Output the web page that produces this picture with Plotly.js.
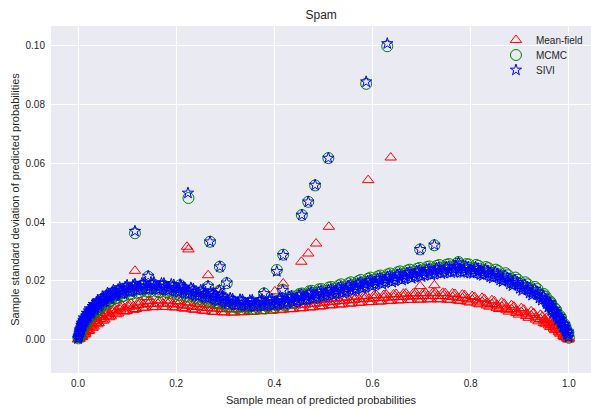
<!DOCTYPE html>
<html>
<head>
<meta charset="utf-8">
<script src="https://cdn.plot.ly/plotly-3.0.1.min.js"></script>
<style>html,body{margin:0;padding:0;background:#fff;}#chart{width:591px;height:410px;}</style>
</head>
<body>
<div id="chart"></div>
<script>
// Mean-field (main band: upper/lower sweeps and middle row)
const mfX = [0.000,0.003,0.006,0.009,0.012,0.015,0.019,0.023,0.027,0.032,0.037,0.042,0.048,0.054,0.060,0.067,0.074,0.082,0.090,0.099,0.108,0.118,0.128,0.138,0.148,0.158,0.168,0.178,0.188,0.198,0.208,0.218,0.228,0.238,0.248,0.258,0.268,0.278,0.288,0.298,0.308,0.318,0.328,0.338,0.348,0.358,0.368,0.378,0.388,0.398,0.408,0.418,0.428,0.438,0.448,0.458,0.468,0.478,0.488,0.498,0.508,0.518,0.528,0.538,0.548,0.558,0.568,0.578,0.588,0.598,0.608,0.618,0.628,0.638,0.648,0.658,0.668,0.678,0.688,0.698,0.708,0.718,0.728,0.738,0.748,0.758,0.768,0.778,0.788,0.798,0.808,0.818,0.828,0.838,0.848,0.858,0.868,0.878,0.888,0.898,0.908,0.918,0.928,0.938,0.946,0.952,0.957,0.962,0.967,0.972,0.977,0.982,0.987,0.991,0.995,0.999];
const mfY = [0.0000,0.0002,0.0015,0.0010,0.0029,0.0020,0.0043,0.0031,0.0057,0.0044,0.0072,0.0056,0.0084,0.0068,0.0096,0.0079,0.0106,0.0089,0.0115,0.0097,0.0123,0.0104,0.0129,0.0109,0.0132,0.0111,0.0133,0.0111,0.0132,0.0109,0.0129,0.0105,0.0125,0.0101,0.0121,0.0097,0.0117,0.0094,0.0115,0.0092,0.0114,0.0092,0.0115,0.0093,0.0116,0.0095,0.0118,0.0097,0.0120,0.0099,0.0122,0.0102,0.0125,0.0104,0.0128,0.0107,0.0131,0.0110,0.0134,0.0114,0.0138,0.0117,0.0141,0.0120,0.0144,0.0123,0.0147,0.0126,0.0149,0.0128,0.0151,0.0130,0.0153,0.0132,0.0155,0.0134,0.0157,0.0135,0.0158,0.0136,0.0159,0.0137,0.0159,0.0137,0.0158,0.0135,0.0155,0.0131,0.0151,0.0126,0.0145,0.0120,0.0138,0.0112,0.0130,0.0104,0.0122,0.0095,0.0112,0.0085,0.0102,0.0074,0.0090,0.0062,0.0078,0.0054,0.0068,0.0043,0.0055,0.0032,0.0041,0.0020,0.0026,0.0008,0.0010,0.0000];
const mfX2 = [0.0015,0.0045,0.0075,0.0105,0.0135,0.017,0.021,0.025,0.0295,0.0345,0.0395,0.045,0.051,0.057,0.0635,0.0705,0.078,0.086,0.0945,0.1035,0.113,0.123,0.133,0.143,0.153,0.163,0.173,0.183,0.193,0.203,0.213,0.223,0.233,0.243,0.253,0.263,0.273,0.283,0.293,0.303,0.313,0.323,0.333,0.343,0.353,0.363,0.373,0.383,0.393,0.403,0.413,0.423,0.433,0.443,0.453,0.463,0.473,0.483,0.493,0.503,0.513,0.523,0.533,0.543,0.553,0.563,0.573,0.583,0.593,0.603,0.613,0.623,0.633,0.643,0.653,0.663,0.673,0.683,0.693,0.703,0.713,0.723,0.733,0.743,0.753,0.763,0.773,0.783,0.793,0.803,0.813,0.823,0.833,0.843,0.853,0.863,0.873,0.883,0.893,0.903,0.913,0.923,0.933,0.942,0.949,0.9545,0.9595,0.9645,0.9695,0.9745,0.9795,0.9845,0.989,0.993,0.997,1.000];
const mfY2 = [0.0004,0.0010,0.0008,0.0024,0.0017,0.0038,0.0029,0.0051,0.0040,0.0064,0.0052,0.0078,0.0064,0.0090,0.0076,0.0101,0.0086,0.0111,0.0095,0.0119,0.0101,0.0126,0.0107,0.0131,0.0110,0.0133,0.0111,0.0133,0.0110,0.0131,0.0107,0.0127,0.0103,0.0123,0.0099,0.0119,0.0095,0.0116,0.0093,0.0114,0.0092,0.0114,0.0093,0.0115,0.0094,0.0117,0.0096,0.0119,0.0098,0.0121,0.0100,0.0124,0.0103,0.0126,0.0106,0.0129,0.0109,0.0132,0.0112,0.0136,0.0116,0.0139,0.0119,0.0142,0.0122,0.0145,0.0125,0.0148,0.0127,0.0150,0.0129,0.0152,0.0131,0.0154,0.0133,0.0156,0.0135,0.0157,0.0136,0.0158,0.0137,0.0159,0.0137,0.0159,0.0136,0.0157,0.0133,0.0153,0.0129,0.0148,0.0123,0.0142,0.0116,0.0134,0.0108,0.0126,0.0100,0.0117,0.0090,0.0107,0.0080,0.0096,0.0068,0.0084,0.0056,0.0074,0.0048,0.0061,0.0037,0.0047,0.0025,0.0032,0.0012,0.0014,0.0003,0.0004];
const mfX3 = [0.0025,0.0055,0.0085,0.0115,0.0145,0.0175,0.0215,0.0255,0.0295,0.0345,0.0395,0.045,0.051,0.057,0.0635,0.0705,0.078,0.086,0.0945,0.1035,0.113,0.123,0.133,0.143,0.153,0.163,0.173,0.183,0.193,0.203,0.213,0.223,0.233,0.243,0.253,0.263,0.273,0.283,0.293,0.303,0.313,0.323,0.333,0.343,0.353,0.363,0.373,0.383,0.393,0.403,0.413,0.423,0.433,0.443,0.453,0.463,0.473,0.483,0.493,0.503,0.513,0.523,0.533,0.543,0.553,0.563,0.573,0.583,0.593,0.603,0.613,0.623,0.633,0.643,0.653,0.663,0.673,0.683,0.693,0.703,0.713,0.723,0.733,0.743,0.753,0.763,0.773,0.783,0.793,0.803,0.813,0.823,0.833,0.843,0.853,0.863,0.873,0.883,0.893,0.903,0.913,0.923,0.933,0.942,0.949,0.9545,0.9595,0.9645,0.9695,0.9745,0.9795,0.9845,0.989,0.993,0.997];
const mfY3 = [0.0005,0.0008,0.0014,0.0020,0.0026,0.0032,0.0038,0.0045,0.0051,0.0058,0.0064,0.0070,0.0076,0.0082,0.0088,0.0093,0.0098,0.0102,0.0106,0.0110,0.0114,0.0117,0.0119,0.0121,0.0122,0.0122,0.0122,0.0122,0.0121,0.0119,0.0117,0.0115,0.0113,0.0111,0.0109,0.0107,0.0106,0.0105,0.0104,0.0103,0.0103,0.0104,0.0104,0.0105,0.0106,0.0107,0.0108,0.0109,0.0110,0.0111,0.0112,0.0114,0.0115,0.0116,0.0118,0.0119,0.0121,0.0122,0.0124,0.0126,0.0128,0.0129,0.0131,0.0132,0.0134,0.0135,0.0137,0.0138,0.0139,0.0140,0.0141,0.0142,0.0143,0.0144,0.0145,0.0146,0.0146,0.0147,0.0147,0.0148,0.0148,0.0148,0.0148,0.0148,0.0147,0.0145,0.0143,0.0141,0.0139,0.0136,0.0133,0.0129,0.0125,0.0121,0.0117,0.0113,0.0109,0.0104,0.0099,0.0094,0.0088,0.0082,0.0076,0.0070,0.0066,0.0061,0.0055,0.0049,0.0043,0.0037,0.0031,0.0024,0.0017,0.0010,0.0005];
// Mean-field (isolated points)
const mfOutX = [0.116,0.139,0.222,0.225,0.265,0.286,0.301,0.401,0.418,0.455,0.469,0.485,0.511,0.591,0.637,0.697,0.726];
const mfOutY = [0.0234,0.0145,0.0316,0.0307,0.0219,0.0168,0.0145,0.0164,0.0191,0.0265,0.0293,0.0327,0.0384,0.0543,0.0620,0.0182,0.0185];

// MCMC (main band: upper/lower sweeps and middle row)
const mcX = [0.001,0.003,0.005,0.007,0.009,0.011,0.013,0.016,0.019,0.022,0.025,0.029,0.033,0.037,0.041,0.046,0.051,0.056,0.061,0.067,0.073,0.079,0.086,0.093,0.101,0.109,0.117,0.126,0.136,0.146,0.156,0.166,0.176,0.186,0.196,0.206,0.216,0.226,0.236,0.246,0.256,0.266,0.276,0.286,0.296,0.306,0.316,0.326,0.336,0.346,0.356,0.366,0.376,0.386,0.396,0.406,0.416,0.426,0.436,0.446,0.456,0.466,0.476,0.486,0.496,0.506,0.516,0.526,0.536,0.546,0.556,0.566,0.576,0.586,0.596,0.606,0.616,0.626,0.636,0.646,0.656,0.666,0.676,0.686,0.696,0.706,0.716,0.726,0.736,0.746,0.756,0.766,0.776,0.786,0.796,0.806,0.816,0.826,0.836,0.846,0.856,0.866,0.876,0.886,0.896,0.906,0.916,0.926,0.936,0.946,0.953,0.959,0.964,0.969,0.974,0.979,0.984,0.989,0.993,0.997,1.000];
const mcY = [0.0004,0.0010,0.0030,0.0034,0.0052,0.0046,0.0068,0.0060,0.0084,0.0073,0.0098,0.0086,0.0112,0.0100,0.0124,0.0110,0.0138,0.0122,0.0150,0.0132,0.0160,0.0142,0.0169,0.0149,0.0177,0.0155,0.0181,0.0161,0.0185,0.0162,0.0186,0.0161,0.0183,0.0158,0.0178,0.0152,0.0171,0.0146,0.0164,0.0138,0.0157,0.0131,0.0149,0.0122,0.0140,0.0112,0.0130,0.0108,0.0127,0.0106,0.0127,0.0109,0.0130,0.0112,0.0134,0.0117,0.0139,0.0123,0.0147,0.0131,0.0157,0.0140,0.0166,0.0148,0.0172,0.0156,0.0179,0.0163,0.0188,0.0171,0.0195,0.0179,0.0203,0.0187,0.0211,0.0195,0.0218,0.0202,0.0225,0.0209,0.0232,0.0215,0.0238,0.0221,0.0244,0.0227,0.0249,0.0231,0.0254,0.0235,0.0257,0.0238,0.0258,0.0237,0.0256,0.0234,0.0251,0.0227,0.0243,0.0218,0.0233,0.0206,0.0219,0.0192,0.0204,0.0176,0.0188,0.0160,0.0172,0.0142,0.0146,0.0118,0.0124,0.0097,0.0101,0.0074,0.0074,0.0047,0.0044,0.0021,0.0006];
const mcX2 = [0.002,0.004,0.006,0.008,0.010,0.012,0.0145,0.0175,0.0205,0.0235,0.027,0.031,0.035,0.039,0.0435,0.0485,0.0535,0.0585,0.064,0.070,0.076,0.0825,0.0895,0.097,0.105,0.113,0.121,0.131,0.141,0.151,0.161,0.171,0.181,0.191,0.201,0.211,0.221,0.231,0.241,0.251,0.261,0.271,0.281,0.291,0.301,0.311,0.321,0.331,0.341,0.351,0.361,0.371,0.381,0.391,0.401,0.411,0.421,0.431,0.441,0.451,0.461,0.471,0.481,0.491,0.501,0.511,0.521,0.531,0.541,0.551,0.561,0.571,0.581,0.591,0.601,0.611,0.621,0.631,0.641,0.651,0.661,0.671,0.681,0.691,0.701,0.711,0.721,0.731,0.741,0.751,0.761,0.771,0.781,0.791,0.801,0.811,0.821,0.831,0.841,0.851,0.861,0.871,0.881,0.891,0.901,0.911,0.921,0.931,0.941,0.949,0.956,0.9615,0.9665,0.9715,0.9765,0.9815,0.9865,0.991,0.995,0.999];
const mcY2 = [0.0008,0.0020,0.0022,0.0044,0.0042,0.0058,0.0054,0.0074,0.0068,0.0091,0.0079,0.0105,0.0092,0.0120,0.0104,0.0130,0.0118,0.0142,0.0130,0.0152,0.0140,0.0162,0.0147,0.0171,0.0155,0.0177,0.0159,0.0183,0.0163,0.0184,0.0164,0.0183,0.0161,0.0180,0.0156,0.0174,0.0149,0.0168,0.0142,0.0160,0.0135,0.0153,0.0127,0.0144,0.0118,0.0133,0.0109,0.0128,0.0107,0.0125,0.0104,0.0126,0.0106,0.0128,0.0110,0.0134,0.0116,0.0143,0.0126,0.0155,0.0138,0.0164,0.0146,0.0171,0.0152,0.0177,0.0158,0.0184,0.0166,0.0191,0.0173,0.0199,0.0181,0.0207,0.0189,0.0215,0.0196,0.0222,0.0203,0.0229,0.0210,0.0235,0.0216,0.0241,0.0222,0.0247,0.0227,0.0251,0.0232,0.0255,0.0235,0.0258,0.0236,0.0257,0.0234,0.0254,0.0229,0.0247,0.0221,0.0238,0.0211,0.0226,0.0197,0.0211,0.0182,0.0195,0.0166,0.0179,0.0149,0.0155,0.0126,0.0130,0.0102,0.0106,0.0079,0.0081,0.0054,0.0052,0.0028,0.0024];
const mcX3 = [0.0035,0.0055,0.0075,0.0095,0.0115,0.0135,0.0165,0.0195,0.0225,0.0255,0.0295,0.0335,0.0375,0.0415,0.0465,0.0515,0.0565,0.0615,0.0675,0.0735,0.0795,0.0865,0.0935,0.1015,0.1095,0.1175,0.1265,0.1365,0.1465,0.1565,0.1665,0.1765,0.1865,0.1965,0.2065,0.2165,0.2265,0.2365,0.2465,0.2565,0.2665,0.2765,0.2865,0.2965,0.3065,0.3165,0.3265,0.3365,0.3465,0.3565,0.3665,0.3765,0.3865,0.3965,0.4065,0.4165,0.4265,0.4365,0.4465,0.4565,0.4665,0.4765,0.4865,0.4965,0.5065,0.5165,0.5265,0.5365,0.5465,0.5565,0.5665,0.5765,0.5865,0.5965,0.6065,0.6165,0.6265,0.6365,0.6465,0.6565,0.6665,0.6765,0.6865,0.6965,0.7065,0.7165,0.7265,0.7365,0.7465,0.7565,0.7665,0.7765,0.7865,0.7965,0.8065,0.8165,0.8265,0.8365,0.8465,0.8565,0.8665,0.8765,0.8865,0.8965,0.9065,0.9165,0.9265,0.9365,0.9465,0.9545,0.9605,0.9655,0.9705,0.9755,0.9805,0.9855,0.9905,0.9945,0.9985];
const mcY3 = [0.0015,0.0028,0.0040,0.0050,0.0058,0.0066,0.0072,0.0082,0.0088,0.0094,0.0095,0.0102,0.0110,0.0114,0.0120,0.0128,0.0132,0.0140,0.0142,0.0150,0.0152,0.0158,0.0160,0.0166,0.0166,0.0170,0.0172,0.0174,0.0173,0.0175,0.0172,0.0172,0.0169,0.0167,0.0163,0.0160,0.0157,0.0153,0.0149,0.0146,0.0142,0.0138,0.0133,0.0129,0.0123,0.0120,0.0118,0.0117,0.0115,0.0116,0.0116,0.0118,0.0118,0.0120,0.0122,0.0123,0.0134,0.0137,0.0148,0.0151,0.0154,0.0158,0.0160,0.0163,0.0166,0.0169,0.0173,0.0177,0.0180,0.0184,0.0188,0.0192,0.0196,0.0200,0.0204,0.0207,0.0211,0.0214,0.0218,0.0221,0.0224,0.0227,0.0230,0.0233,0.0236,0.0238,0.0240,0.0243,0.0244,0.0246,0.0247,0.0247,0.0246,0.0245,0.0243,0.0240,0.0236,0.0232,0.0227,0.0222,0.0215,0.0208,0.0201,0.0193,0.0185,0.0177,0.0169,0.0161,0.0150,0.0128,0.0116,0.0106,0.0096,0.0084,0.0072,0.0058,0.0044,0.0032,0.0018];
// MCMC (isolated points)
const mcOutX = [0.116,0.143,0.208,0.225,0.265,0.269,0.288,0.289,0.303,0.379,0.405,0.417,0.418,0.456,0.469,0.483,0.510,0.587,0.630,0.697,0.726,0.775,0.962];
const mcOutY = [0.0362,0.0214,0.0185,0.0482,0.0180,0.0333,0.0166,0.0248,0.0192,0.0157,0.0237,0.0170,0.0289,0.0424,0.0469,0.0525,0.0618,0.0871,0.0999,0.0307,0.0321,0.0264,0.0123];

// SIVI (main band: upper/lower sweeps and middle row)
const svX = [0.000,0.002,0.004,0.006,0.008,0.010,0.012,0.015,0.018,0.021,0.024,0.028,0.032,0.036,0.040,0.045,0.050,0.055,0.060,0.066,0.072,0.078,0.085,0.092,0.100,0.108,0.116,0.125,0.135,0.145,0.155,0.165,0.175,0.185,0.195,0.205,0.215,0.225,0.235,0.245,0.255,0.265,0.275,0.285,0.295,0.305,0.315,0.325,0.335,0.345,0.355,0.365,0.375,0.385,0.395,0.405,0.415,0.425,0.435,0.445,0.455,0.465,0.475,0.485,0.495,0.505,0.515,0.525,0.535,0.545,0.555,0.565,0.575,0.585,0.595,0.605,0.615,0.625,0.635,0.645,0.655,0.665,0.675,0.685,0.695,0.705,0.715,0.725,0.735,0.745,0.755,0.765,0.775,0.785,0.795,0.805,0.815,0.825,0.835,0.845,0.855,0.865,0.875,0.885,0.895,0.905,0.915,0.925,0.935,0.945,0.952,0.958,0.963,0.968,0.973,0.978,0.983,0.988,0.992,0.996,0.999];
const svY = [0.0003,0.0012,0.0033,0.0036,0.0056,0.0052,0.0074,0.0066,0.0090,0.0080,0.0105,0.0094,0.0120,0.0108,0.0132,0.0118,0.0146,0.0130,0.0158,0.0140,0.0168,0.0150,0.0177,0.0157,0.0185,0.0163,0.0189,0.0169,0.0193,0.0170,0.0194,0.0169,0.0191,0.0166,0.0186,0.0160,0.0179,0.0154,0.0172,0.0146,0.0165,0.0139,0.0157,0.0130,0.0148,0.0121,0.0138,0.0117,0.0135,0.0114,0.0134,0.0115,0.0136,0.0117,0.0138,0.0120,0.0141,0.0124,0.0147,0.0130,0.0153,0.0136,0.0160,0.0142,0.0165,0.0148,0.0171,0.0155,0.0179,0.0162,0.0186,0.0170,0.0194,0.0178,0.0202,0.0186,0.0209,0.0193,0.0216,0.0200,0.0223,0.0206,0.0229,0.0212,0.0235,0.0218,0.0240,0.0222,0.0245,0.0226,0.0248,0.0229,0.0249,0.0228,0.0247,0.0225,0.0242,0.0218,0.0234,0.0209,0.0224,0.0197,0.0210,0.0183,0.0195,0.0167,0.0179,0.0151,0.0163,0.0134,0.0138,0.0110,0.0116,0.0090,0.0094,0.0068,0.0068,0.0042,0.0040,0.0018,0.0008];
const svX2 = [0.001,0.003,0.005,0.007,0.009,0.011,0.0135,0.0165,0.0195,0.0225,0.026,0.030,0.034,0.038,0.0425,0.0475,0.0525,0.0575,0.063,0.069,0.075,0.0815,0.0885,0.096,0.104,0.112,0.120,0.130,0.140,0.150,0.160,0.170,0.180,0.190,0.200,0.210,0.220,0.230,0.240,0.250,0.260,0.270,0.280,0.290,0.300,0.310,0.320,0.330,0.340,0.350,0.360,0.370,0.380,0.390,0.400,0.410,0.420,0.430,0.440,0.450,0.460,0.470,0.480,0.490,0.500,0.510,0.520,0.530,0.540,0.550,0.560,0.570,0.580,0.590,0.600,0.610,0.620,0.630,0.640,0.650,0.660,0.670,0.680,0.690,0.700,0.710,0.720,0.730,0.740,0.750,0.760,0.770,0.780,0.790,0.800,0.810,0.820,0.830,0.840,0.850,0.860,0.870,0.880,0.890,0.900,0.910,0.920,0.930,0.940,0.948,0.955,0.9605,0.9655,0.9705,0.9755,0.9805,0.9855,0.990,0.994,0.998];
const svY2 = [0.0008,0.0022,0.0025,0.0048,0.0046,0.0064,0.0060,0.0080,0.0075,0.0098,0.0087,0.0113,0.0100,0.0128,0.0112,0.0138,0.0126,0.0150,0.0138,0.0160,0.0148,0.0170,0.0155,0.0179,0.0163,0.0185,0.0167,0.0191,0.0171,0.0192,0.0172,0.0191,0.0169,0.0188,0.0164,0.0182,0.0157,0.0176,0.0150,0.0168,0.0143,0.0161,0.0135,0.0152,0.0126,0.0141,0.0117,0.0136,0.0115,0.0133,0.0112,0.0134,0.0114,0.0136,0.0117,0.0140,0.0120,0.0145,0.0126,0.0151,0.0132,0.0157,0.0138,0.0163,0.0144,0.0169,0.0150,0.0176,0.0158,0.0183,0.0165,0.0191,0.0173,0.0199,0.0181,0.0207,0.0188,0.0214,0.0195,0.0221,0.0202,0.0227,0.0208,0.0233,0.0214,0.0239,0.0219,0.0243,0.0224,0.0247,0.0227,0.0250,0.0228,0.0249,0.0226,0.0246,0.0221,0.0239,0.0213,0.0230,0.0203,0.0218,0.0189,0.0203,0.0174,0.0187,0.0158,0.0171,0.0141,0.0149,0.0122,0.0126,0.0100,0.0104,0.0078,0.0080,0.0054,0.0052,0.0028,0.0026];
const svX3 = [0.0025,0.0045,0.0065,0.0085,0.0105,0.0125,0.0155,0.0185,0.0215,0.0245,0.0285,0.0325,0.0365,0.0405,0.0455,0.0505,0.0555,0.0605,0.0665,0.0725,0.0785,0.0855,0.0925,0.1005,0.1085,0.1165,0.1255,0.1355,0.1455,0.1555,0.1655,0.1755,0.1855,0.1955,0.2055,0.2155,0.2255,0.2355,0.2455,0.2555,0.2655,0.2755,0.2855,0.2955,0.3055,0.3155,0.3255,0.3355,0.3455,0.3555,0.3655,0.3755,0.3855,0.3955,0.4055,0.4155,0.4255,0.4355,0.4455,0.4555,0.4655,0.4755,0.4855,0.4955,0.5055,0.5155,0.5255,0.5355,0.5455,0.5555,0.5655,0.5755,0.5855,0.5955,0.6055,0.6155,0.6255,0.6355,0.6455,0.6555,0.6655,0.6755,0.6855,0.6955,0.7055,0.7155,0.7255,0.7355,0.7455,0.7555,0.7655,0.7755,0.7855,0.7955,0.8055,0.8155,0.8255,0.8355,0.8455,0.8555,0.8655,0.8755,0.8855,0.8955,0.9055,0.9155,0.9255,0.9355,0.9455,0.9535,0.9595,0.9645,0.9695,0.9745,0.9795,0.9845,0.9895,0.9935,0.9975];
const svY3 = [0.0015,0.0028,0.0040,0.0050,0.0058,0.0066,0.0072,0.0082,0.0088,0.0096,0.0103,0.0110,0.0118,0.0122,0.0128,0.0136,0.0140,0.0148,0.0150,0.0158,0.0160,0.0166,0.0168,0.0174,0.0174,0.0178,0.0180,0.0182,0.0181,0.0183,0.0180,0.0180,0.0177,0.0175,0.0171,0.0168,0.0165,0.0161,0.0157,0.0154,0.0150,0.0146,0.0141,0.0137,0.0131,0.0128,0.0126,0.0125,0.0123,0.0124,0.0124,0.0126,0.0126,0.0128,0.0130,0.0131,0.0134,0.0137,0.0140,0.0143,0.0146,0.0150,0.0152,0.0155,0.0158,0.0161,0.0165,0.0169,0.0172,0.0176,0.0180,0.0184,0.0188,0.0192,0.0196,0.0199,0.0203,0.0206,0.0210,0.0213,0.0216,0.0219,0.0222,0.0225,0.0228,0.0230,0.0232,0.0235,0.0236,0.0238,0.0239,0.0239,0.0238,0.0237,0.0235,0.0232,0.0228,0.0224,0.0219,0.0214,0.0207,0.0200,0.0193,0.0185,0.0177,0.0169,0.0161,0.0153,0.0142,0.0128,0.0116,0.0106,0.0096,0.0084,0.0072,0.0058,0.0044,0.0032,0.0018];
// SIVI (isolated points)
const svOutX = [0.116,0.143,0.208,0.224,0.265,0.269,0.288,0.289,0.303,0.379,0.405,0.417,0.418,0.456,0.469,0.483,0.510,0.587,0.630,0.697,0.726,0.775,0.961];
const svOutY = [0.0369,0.0216,0.0187,0.0499,0.0182,0.0333,0.0168,0.0248,0.0193,0.0157,0.0232,0.0168,0.0287,0.0424,0.0469,0.0526,0.0618,0.0878,0.1008,0.0307,0.0322,0.0262,0.0125];

const seriesNames = ['Mean-field','MCMC','SIVI'];
const xTicks = [0.0,0.2,0.4,0.6,0.8,1.0];
const yTicks = [0.00,0.02,0.04,0.06,0.08,0.10];

const FONT = '"Liberation Sans", Arial, "DejaVu Sans", sans-serif';
const TXT = '#262626';

const traces = [
  {name:seriesNames[0], legend:'legend', type:'scatter', mode:'markers',
   x: mfX.concat(mfX2, mfX3, mfOutX), y: mfY.concat(mfY2, mfY3, mfOutY),
   marker:{symbol:'triangle-up-open', size:10, color:'#ff0000', line:{width:1, color:'#ff0000'}}},
  {name:seriesNames[1], legend:'legend2', type:'scatter', mode:'markers',
   x: mcX.concat(mcX2, mcX3, mcOutX), y: mcY.concat(mcY2, mcY3, mcOutY),
   marker:{symbol:'circle-open', size:11, color:'#008000', line:{width:1, color:'#008000'}}},
  {name:seriesNames[2], legend:'legend3', type:'scatter', mode:'markers',
   x: svX.concat(svX2, svX3, svOutX), y: svY.concat(svY2, svY3, svOutY),
   marker:{symbol:'star-open', size:8.5, color:'#0000ff', line:{width:1, color:'#0000ff'}}}
];

const legBase = {x:0.824, xanchor:'left', yanchor:'middle', bgcolor:'rgba(0,0,0,0)', borderwidth:0,
  font:{family:FONT, size:10, color:TXT}};

const layout = {
  width:591, height:410,
  margin:{l:51, r:0, t:26, b:37},
  paper_bgcolor:'#ffffff', plot_bgcolor:'#EAEAF2',
  font:{family:FONT, size:10, color:TXT},
  title:{text:'Spam', font:{family:FONT, size:12, color:TXT}, x:0.5435, xanchor:'center', y:0.963, yanchor:'middle', xref:'container'},
  xaxis:{range:[-0.055,1.045], tickvals:xTicks, ticktext:xTicks.map(v=>v.toFixed(1)), automargin:false,
    showgrid:true, gridcolor:'#ffffff', gridwidth:1, zeroline:false, showline:false, ticks:'', ticklabelstandoff:3,
    tickfont:{family:FONT, size:10, color:TXT},
    title:{text:'Sample mean of predicted probabilities', font:{family:FONT, size:11, color:TXT}, standoff:8}},
  yaxis:{range:[-0.0114,0.1068], tickvals:yTicks, ticktext:yTicks.map(v=>v.toFixed(2)), automargin:false,
    showgrid:true, gridcolor:'#ffffff', gridwidth:1, zeroline:false, showline:false, ticks:'', ticklabelstandoff:5,
    tickfont:{family:FONT, size:10, color:TXT},
    title:{text:'Sample standard deviation of predicted probabilities', font:{family:FONT, size:11, color:TXT}, standoff:3}},
  legend: Object.assign({}, legBase, {y:0.9597}),
  legend2: Object.assign({}, legBase, {y:0.9164}),
  legend3: Object.assign({}, legBase, {y:0.8732}),
  showlegend:true
};

Plotly.newPlot('chart', traces, layout, {displayModeBar:false, staticPlot:true});
</script>
</body>
</html>
